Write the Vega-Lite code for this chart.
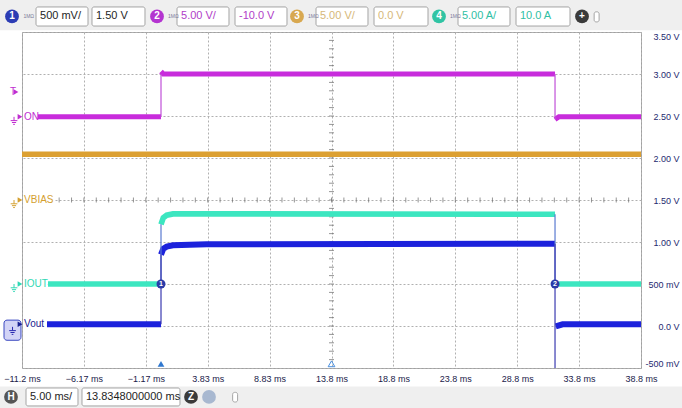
{
"$schema": "https://vega.github.io/schema/vega-lite/v6.json",
"width": 619, "height": 336,
"autosize": {"type": "none"},
"padding": {"left": 22, "top": 32, "right": 41, "bottom": 40},
"background": "#ffffff",
"config": {"view": {"stroke": "#a0a0a0", "strokeWidth": 1}, "font": "Liberation Sans"},
"datasets": {
 "bands": [
  {"s":"ON","g":"on1","t":-9.873,"v":2.49},{"s":"ON","g":"on1","t":0.063,"v":2.49},
  {"s":"ON","g":"on2","t":0.063,"v":3.03},{"s":"ON","g":"on2","t":0.25,"v":3.0},{"s":"ON","g":"on2","t":31.89,"v":3.0},
  {"s":"ON","g":"on3","t":31.89,"v":2.46},{"s":"ON","g":"on3","t":32.2,"v":2.49},{"s":"ON","g":"on3","t":38.8348,"v":2.49},
  {"s":"VBIAS","g":"vb","t":-11.1652,"v":2.045},{"s":"VBIAS","g":"vb","t":38.8348,"v":2.045},
  {"s":"IOUT","g":"i1","t":-9.065,"v":0.5},{"s":"IOUT","g":"i1","t":0.063,"v":0.5},
  {"s":"IOUT","g":"i2","t":0.063,"v":1.21},{"s":"IOUT","g":"i2","t":0.249,"v":1.29},{"s":"IOUT","g":"i2","t":0.523,"v":1.32},{"s":"IOUT","g":"i2","t":1.032,"v":1.335},{"s":"IOUT","g":"i2","t":2.5,"v":1.335},{"s":"IOUT","g":"i2","t":31.89,"v":1.33},
  {"s":"IOUT","g":"i3","t":32.2,"v":0.5},{"s":"IOUT","g":"i3","t":38.8348,"v":0.5},
  {"s":"Vout","g":"v1","t":-9.146,"v":0.02},{"s":"Vout","g":"v1","t":0.063,"v":0.02},
  {"s":"Vout","g":"v2","t":0.063,"v":0.85},{"s":"Vout","g":"v2","t":0.249,"v":0.92},{"s":"Vout","g":"v2","t":0.523,"v":0.945},{"s":"Vout","g":"v2","t":1.032,"v":0.96},{"s":"Vout","g":"v2","t":3.754,"v":0.973},{"s":"Vout","g":"v2","t":31.89,"v":0.98},
  {"s":"Vout","g":"v3","t":31.95,"v":-0.005},{"s":"Vout","g":"v3","t":32.5,"v":0.02},{"s":"Vout","g":"v3","t":38.8348,"v":0.02}
 ],
 "edges": [
  {"s":"ON","t":0.063,"v":2.49,"v2":3.0},
  {"s":"IOUT","t":0.063,"v":0.5,"v2":1.21},
  {"s":"Vout","t":0.063,"v":0.02,"v2":0.85},
  {"s":"ON","t":31.89,"v":3.0,"v2":2.46},
  {"s":"IOUT","t":31.89,"v":1.33,"v2":0.5},
  {"s":"Vout","t":31.89,"v":0.98,"v2":-0.5}
 ],
 "xticks": [
  {"t":-10.1652,"v":1.5},{"t":-9.1652,"v":1.5},{"t":-8.1652,"v":1.5},{"t":-7.1652,"v":1.5},{"t":-6.1652,"v":1.5},{"t":-5.1652,"v":1.5},{"t":-4.1652,"v":1.5},{"t":-3.1652,"v":1.5},{"t":-2.1652,"v":1.5},{"t":-1.1652,"v":1.5},
  {"t":-0.1652,"v":1.5},{"t":0.8348,"v":1.5},{"t":1.8348,"v":1.5},{"t":2.8348,"v":1.5},{"t":3.8348,"v":1.5},{"t":4.8348,"v":1.5},{"t":5.8348,"v":1.5},{"t":6.8348,"v":1.5},{"t":7.8348,"v":1.5},{"t":8.8348,"v":1.5},
  {"t":9.8348,"v":1.5},{"t":10.8348,"v":1.5},{"t":11.8348,"v":1.5},{"t":12.8348,"v":1.5},{"t":13.8348,"v":1.5},{"t":14.8348,"v":1.5},{"t":15.8348,"v":1.5},{"t":16.8348,"v":1.5},{"t":17.8348,"v":1.5},{"t":18.8348,"v":1.5},
  {"t":19.8348,"v":1.5},{"t":20.8348,"v":1.5},{"t":21.8348,"v":1.5},{"t":22.8348,"v":1.5},{"t":23.8348,"v":1.5},{"t":24.8348,"v":1.5},{"t":25.8348,"v":1.5},{"t":26.8348,"v":1.5},{"t":27.8348,"v":1.5},{"t":28.8348,"v":1.5},
  {"t":29.8348,"v":1.5},{"t":30.8348,"v":1.5},{"t":31.8348,"v":1.5},{"t":32.8348,"v":1.5},{"t":33.8348,"v":1.5},{"t":34.8348,"v":1.5},{"t":35.8348,"v":1.5},{"t":36.8348,"v":1.5},{"t":37.8348,"v":1.5}
 ],
 "yticks": [
  {"t":13.8348,"v":-0.4},{"t":13.8348,"v":-0.3},{"t":13.8348,"v":-0.2},{"t":13.8348,"v":-0.1},{"t":13.8348,"v":0.0},{"t":13.8348,"v":0.1},{"t":13.8348,"v":0.2},{"t":13.8348,"v":0.3},{"t":13.8348,"v":0.4},{"t":13.8348,"v":0.5},
  {"t":13.8348,"v":0.6},{"t":13.8348,"v":0.7},{"t":13.8348,"v":0.8},{"t":13.8348,"v":0.9},{"t":13.8348,"v":1.0},{"t":13.8348,"v":1.1},{"t":13.8348,"v":1.2},{"t":13.8348,"v":1.3},{"t":13.8348,"v":1.4},{"t":13.8348,"v":1.5},
  {"t":13.8348,"v":1.6},{"t":13.8348,"v":1.7},{"t":13.8348,"v":1.8},{"t":13.8348,"v":1.9},{"t":13.8348,"v":2.0},{"t":13.8348,"v":2.1},{"t":13.8348,"v":2.2},{"t":13.8348,"v":2.3},{"t":13.8348,"v":2.4},{"t":13.8348,"v":2.5},
  {"t":13.8348,"v":2.6},{"t":13.8348,"v":2.7},{"t":13.8348,"v":2.8},{"t":13.8348,"v":2.9},{"t":13.8348,"v":3.0},{"t":13.8348,"v":3.1},{"t":13.8348,"v":3.2},{"t":13.8348,"v":3.3},{"t":13.8348,"v":3.4}
 ]
},
"encoding": {
 "x": {"field": "t", "type": "quantitative",
  "scale": {"domain": [-11.1652, 38.8348], "nice": false, "zero": false},
  "axis": {"title": null, "values": [-11.1652,-6.1652,-1.1652,3.8348,8.8348,13.8348,18.8348,23.8348,28.8348,33.8348,38.8348],
   "labelExpr": "format(datum.value, '.3r') + ' ms'", "ticks": false, "domain": false, "labelPadding": 6,
   "labelFontSize": 9, "labelColor": "#1a1a4a", "gridColor": "#b0b0b0", "gridDash": [2, 2], "labelFlush": false, "labelOverlap": false}},
 "y": {"field": "v", "type": "quantitative",
  "scale": {"domain": [-0.5, 3.5], "nice": false, "zero": false},
  "axis": {"title": null, "orient": "right", "values": [-0.5,0,0.5,1,1.5,2,2.5,3,3.5],
   "labelExpr": "datum.value == 0.5 ? '500 mV' : datum.value == -0.5 ? '-500 mV' : datum.value == 0 ? '0.0 V' : format(datum.value, '.2f') + ' V'",
   "ticks": false, "domain": false, "labelAlign": "right", "labelPadding": 38, "labelFlush": true,
   "labelFontSize": 9, "labelColor": "#1e2a70", "gridColor": "#b0b0b0", "gridDash": [2, 2], "labelOverlap": false}}
},
"resolve": {"scale": {"color": "independent", "strokeWidth": "independent"}},
"layer": [
 {"data": {"values": [{"t": -14, "t2": 45, "v": 3.52, "v2": 4.0}, {"t": -14, "t2": 45, "v": -0.72, "v2": -1.2}]},
  "mark": {"type": "rect", "fill": "#efefef"},
  "encoding": {"x2": {"field": "t2"}, "y2": {"field": "v2"}}},
 {"data": {"values": [
   {"t":-10.034,"t2":-5.834,"v":3.571,"v2":3.798},{"t":-5.511,"t2":-1.230,"v":3.571,"v2":3.798},
   {"t":1.355,"t2":5.555,"v":3.571,"v2":3.798},{"t":6.040,"t2":10.240,"v":3.571,"v2":3.798},
   {"t":12.583,"t2":16.783,"v":3.571,"v2":3.798},{"t":17.268,"t2":21.630,"v":3.571,"v2":3.798},
   {"t":24.053,"t2":28.253,"v":3.571,"v2":3.798},{"t":28.738,"t2":33.100,"v":3.571,"v2":3.798},
   {"t":-10.842,"t2":-6.642,"v":-0.738,"v2":-0.952},{"t":-6.319,"t2":1.597,"v":-0.738,"v2":-0.952},
   {"t":35.05,"t2":35.45,"v":3.62,"v2":3.74},{"t":5.85,"t2":6.25,"v":-0.79,"v2":-0.905}
  ]},
  "mark": {"type": "rect", "fill": "#ffffff", "stroke": "#a4a4a4", "strokeWidth": 1, "cornerRadius": 2},
  "encoding": {"x2": {"field": "t2"}, "y2": {"field": "v2"}}},
 {"data": {"values": [
   {"t":-11.973,"v":3.685,"lab":"1","ch":"c1"},{"t":-0.26,"v":3.685,"lab":"2","ch":"c2"},
   {"t":11.048,"v":3.685,"lab":"3","ch":"c3"},{"t":22.518,"v":3.685,"lab":"4","ch":"c4"},
   {"t":34.07,"v":3.685,"lab":"+","ch":"k"},{"t":-12.054,"v":-0.845,"lab":"H","ch":"h"},
   {"t":2.486,"v":-0.845,"lab":"Z","ch":"k"},{"t":3.94,"v":-0.845,"lab":"","ch":"g"}
  ]},
  "layer": [
   {"mark": {"type": "point", "filled": true, "size": 190, "opacity": 1},
    "encoding": {"color": {"field": "ch", "type": "nominal", "legend": null,
     "scale": {"domain": ["c1","c2","c3","c4","k","h","g"], "range": ["#2c3cb4","#b434d0","#d8a850","#30c4a4","#3a3a3a","#555555","#a8b8d0"]}}}},
   {"mark": {"type": "text", "color": "#ffffff", "fontSize": 10, "fontWeight": "bold", "baseline": "middle", "align": "center"},
    "encoding": {"text": {"field": "lab"}}}
  ]},
 {"data": {"values": [
   {"t":-11.05,"v":3.685,"txt":"1MΩ"},{"t":0.63,"v":3.685,"txt":"1MΩ"},{"t":11.94,"v":3.685,"txt":"1MΩ"},{"t":23.41,"v":3.685,"txt":"1MΩ"}
  ]},
  "mark": {"type": "text", "fontSize": 5, "color": "#7a7a9a", "align": "left", "baseline": "middle"},
  "encoding": {"text": {"field": "txt"}}},
 {"data": {"values": [
   {"t":-9.71,"v":3.685,"txt":"500 mV/","ch":"c1"},{"t":-5.19,"v":3.685,"txt":"1.50 V","ch":"c1"},
   {"t":1.68,"v":3.685,"txt":"5.00 V/","ch":"c2"},{"t":6.36,"v":3.685,"txt":"-10.0 V","ch":"c2"},
   {"t":12.90,"v":3.685,"txt":"5.00 V/","ch":"c3"},{"t":17.59,"v":3.685,"txt":"0.0 V","ch":"c3"},
   {"t":24.37,"v":3.685,"txt":"5.00 A/","ch":"c4"},{"t":29.06,"v":3.685,"txt":"10.0 A","ch":"c4"},
   {"t":-10.52,"v":-0.845,"txt":"5.00 ms/","ch":"c1"},{"t":-6.0,"v":-0.845,"txt":"13.8348000000 ms","ch":"c1"}
  ]},
  "mark": {"type": "text", "fontSize": 11, "align": "left", "baseline": "middle"},
  "encoding": {"text": {"field": "txt"},
   "color": {"field": "ch", "type": "nominal", "legend": null,
    "scale": {"domain": ["c1","c2","c3","c4"], "range": ["#1e1e1e","#b040c8","#d6b878","#30c0a4"]}}}},
 {"data": {"name": "xticks"},
  "mark": {"type": "tick", "orient": "vertical", "size": 5, "thickness": 1, "color": "#6a6a6a"}},
 {"data": {"name": "yticks"},
  "mark": {"type": "tick", "orient": "horizontal", "size": 5, "thickness": 1, "color": "#6a6a6a"}},
 {"data": {"values": [
   {"t":-11.08,"t2":-9.9,"v":2.44,"v2":2.54},{"t":-11.08,"t2":-8.5,"v":1.45,"v2":1.55},
   {"t":-11.08,"t2":-9.1,"v":0.45,"v2":0.55},{"t":-11.08,"t2":-9.2,"v":-0.03,"v2":0.07}
  ]},
  "mark": {"type": "rect", "fill": "#ffffff"},
  "encoding": {"x2": {"field": "t2"}, "y2": {"field": "v2"}}},
 {"data": {"name": "bands"},
  "mark": {"type": "line", "clip": true, "strokeCap": "butt"},
  "encoding": {"detail": {"field": "g"},
   "strokeWidth": {"field": "s", "type": "nominal", "legend": null,
    "scale": {"domain": ["ON","VBIAS","IOUT","Vout"], "range": [5, 6, 5, 6.5]}},
   "color": {"field": "s", "type": "nominal", "legend": null,
    "scale": {"domain": ["ON","VBIAS","IOUT","Vout"], "range": ["#c82cdc","#dca032","#3ce6c0","#1c22dc"]}}}},
 {"data": {"name": "edges"},
  "mark": {"type": "rule", "strokeWidth": 1.2, "clip": true},
  "encoding": {"y2": {"field": "v2"},
   "color": {"field": "s", "type": "nominal", "legend": null,
    "scale": {"domain": ["ON","VBIAS","IOUT","Vout"], "range": ["#c050d8","#dca032","#5a7ad0","#3a3ab0"]}}}},
 {"data": {"values": [{"t":-12.619,"t2":-11.246,"v":0.07,"v2":-0.17}]},
  "mark": {"type": "rect", "fill": "#d2d3f6", "stroke": "#3a48c0", "strokeWidth": 1, "cornerRadius": 3},
  "encoding": {"x2": {"field": "t2"}, "y2": {"field": "v2"}}},
 {"data": {"values": [
   {"t":-11.81,"v":2.44,"s":"ON"},{"t":-11.81,"v":1.45,"s":"VBIAS"},{"t":-11.81,"v":0.45,"s":"IOUT"},{"t":-11.93,"v":-0.06,"s":"Vout"}
  ]},
  "mark": {"type": "point", "filled": false, "size": 70, "strokeWidth": 1, "opacity": 1,
   "shape": "M0,-1L0,-0.1M-0.8,-0.1L0.8,-0.1M-0.5,0.35L0.5,0.35M-0.2,0.8L0.2,0.8"},
  "encoding": {"color": {"field": "s", "type": "nominal", "legend": null,
   "scale": {"domain": ["ON","VBIAS","IOUT","Vout"], "range": ["#c02cd0","#d4a030","#30d8b4","#2a2ab0"]}}}},
 {"data": {"values": [
   {"t":-11.65,"v":2.786,"s":"T"},{"t":-11.327,"v":2.49,"s":"ON"},{"t":-11.327,"v":1.5,"s":"VBIAS"},{"t":-11.327,"v":0.5,"s":"IOUT"},{"t":-11.327,"v":0.02,"s":"Vout"}
  ]},
  "mark": {"type": "point", "shape": "triangle-right", "filled": true, "size": 30, "opacity": 1},
  "encoding": {"color": {"field": "s", "type": "nominal", "legend": null,
   "scale": {"domain": ["T","ON","VBIAS","IOUT","Vout"], "range": ["#c02cd0","#c02cd0","#d4a030","#30d8b4","#1a2090"]}}}},
 {"data": {"values": [
   {"t":-12.135,"v":2.786,"txt":"T","s":"T"},{"t":-11.0,"v":2.49,"txt":"ON","s":"ON"},
   {"t":-11.0,"v":1.5,"txt":"VBIAS","s":"VBIAS"},{"t":-11.0,"v":0.5,"txt":"IOUT","s":"IOUT"},{"t":-11.0,"v":0.02,"txt":"Vout","s":"Vout"}
  ]},
  "mark": {"type": "text", "fontSize": 10, "align": "left", "baseline": "middle"},
  "encoding": {"text": {"field": "txt"},
   "color": {"field": "s", "type": "nominal", "legend": null,
    "scale": {"domain": ["T","ON","VBIAS","IOUT","Vout"], "range": ["#c02cd0","#c02cd0","#d4a030","#30d8b4","#1a2090"]}}}},
 {"data": {"values": [{"t":0.063,"v":0.5,"lab":"1"},{"t":31.89,"v":0.5,"lab":"2"}]},
  "layer": [
   {"mark": {"type": "point", "filled": true, "size": 80, "color": "#2a3aa8", "opacity": 1}},
   {"mark": {"type": "text", "color": "#ffffff", "fontSize": 7, "fontWeight": "bold", "baseline": "middle", "align": "center"},
    "encoding": {"text": {"field": "lab"}}}
  ]},
 {"data": {"values": [{"t":0.063,"v":-0.45}]},
  "mark": {"type": "point", "shape": "triangle-up", "filled": true, "size": 45, "color": "#2f78d0", "opacity": 1}},
 {"data": {"values": [{"t":13.8348,"v":-0.45}]},
  "mark": {"type": "point", "shape": "triangle-up", "filled": false, "size": 45, "color": "#4a90e0", "strokeWidth": 1, "opacity": 1}}
]
}
